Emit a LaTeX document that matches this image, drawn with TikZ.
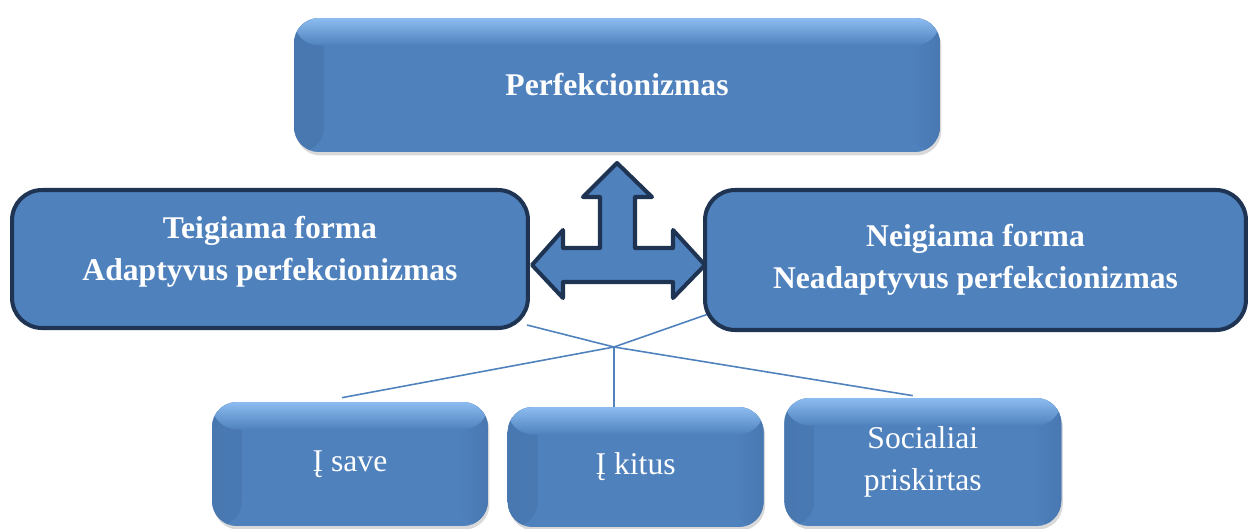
\documentclass[tikz,border=0pt]{standalone}
\usepackage{fontspec}
\setmainfont{Liberation Serif}
\usepackage{tikz}
\usetikzlibrary{
    positioning,
    calc,
    shadows,
    backgrounds
}
\definecolor{boxblue}{RGB}{79, 129, 189}
\definecolor{boxdark}{RGB}{30, 52, 82}
\definecolor{boxlight}{RGB}{140, 188, 240}
\definecolor{boxside}{RGB}{73, 120, 177}
\tikzstyle{glossy} = [
    rectangle,
    rounded corners=0.5cm,
    fill=boxblue,
    text=white,
    align=center,
    font=\fontsize{18}{24}\selectfont,
    drop shadow={shadow xshift=0.03cm, shadow yshift=-0.07cm, opacity=0.3},
    path picture={
        \shade[left color=boxside, right color=boxblue] (path picture bounding box.south west) rectangle ([xshift=0.6cm]path picture bounding box.north west);
        \shade[left color=boxblue, right color=boxside] ([xshift=-0.6cm]path picture bounding box.south east) rectangle (path picture bounding box.north east);
        \shade[top color=boxlight, bottom color=boxblue] (path picture bounding box.north west) rectangle ([yshift=-0.55cm]path picture bounding box.north east);
    }
]
\tikzstyle{link} = [
    draw=boxblue,
    line width=0.9pt
]

\begin{document}
\begin{tikzpicture}[
    x=0.02cm, y=-0.02cm,
    formbox/.style={rectangle, rounded corners=0.6cm, draw=boxdark, line width=2.3pt, fill=boxblue, text=white, align=center, font=\fontsize{18}{24}\selectfont\bfseries},
    triarrow/.style={draw=boxdark, fill=boxblue, line width=2.3pt, line join=round}
]
    \useasboundingbox (0,0) rectangle (1248,528);

    % Top
    \node[glossy, font=\fontsize{18}{24}\selectfont\bfseries, minimum width=12.92cm, minimum height=2.68cm] (perf) at (617,85) {Perfekcionizmas};

    % Forms
    \node[formbox, minimum width=10.32cm, minimum height=2.76cm] (adapt) at (270,259) {Teigiama forma\\Adaptyvus perfekcionizmas\\[-12pt]\mbox{}};
    \node[formbox, minimum width=10.82cm, minimum height=2.8cm] (neadapt) at (975.5,260) {Neigiama forma\\Neadaptyvus perfekcionizmas};

    % Directions
    \node[glossy, minimum width=5.52cm, minimum height=2.48cm] (save) at (350,464) {Į save};
    \node[glossy, minimum width=5.12cm, minimum height=2.4cm, right=0.38cm of save, yshift=-0.06cm] (kitus) {Į kitus};
    \node[glossy, minimum width=5.54cm, minimum height=2.56cm, right=0.4cm of kitus, yshift=0.1cm] (social) {Socialiai\\priskirtas};

    % Three-way arrow
    \draw[triarrow] (617,163) -- (652,197) -- (635,197) -- (635,248) -- (673,248) -- (673,230) -- (705,265)
        -- (673,298) -- (673,282) -- (563,282) -- (563,298) -- (532,265) -- (563,230) -- (563,248)
        -- (600,248) -- (600,197) -- (583,197) -- cycle;

    % Connectors
    \coordinate (junct) at (614,347);
    \begin{scope}[on background layer]
        \draw[link] (junct) -- ($(adapt.south east)+(-3,-5)$);
        \draw[link] (junct) -- ($(neadapt.south west)+(11,-20)$);
        \draw[link] (junct) -- ($(save.north)+(-8,-4)$);
        \draw[link] (junct) -- (junct |- kitus.north);
        \draw[link] (junct) -- ($(social.north)+(-10,-2)$);
    \end{scope}

\end{tikzpicture}
\end{document}
